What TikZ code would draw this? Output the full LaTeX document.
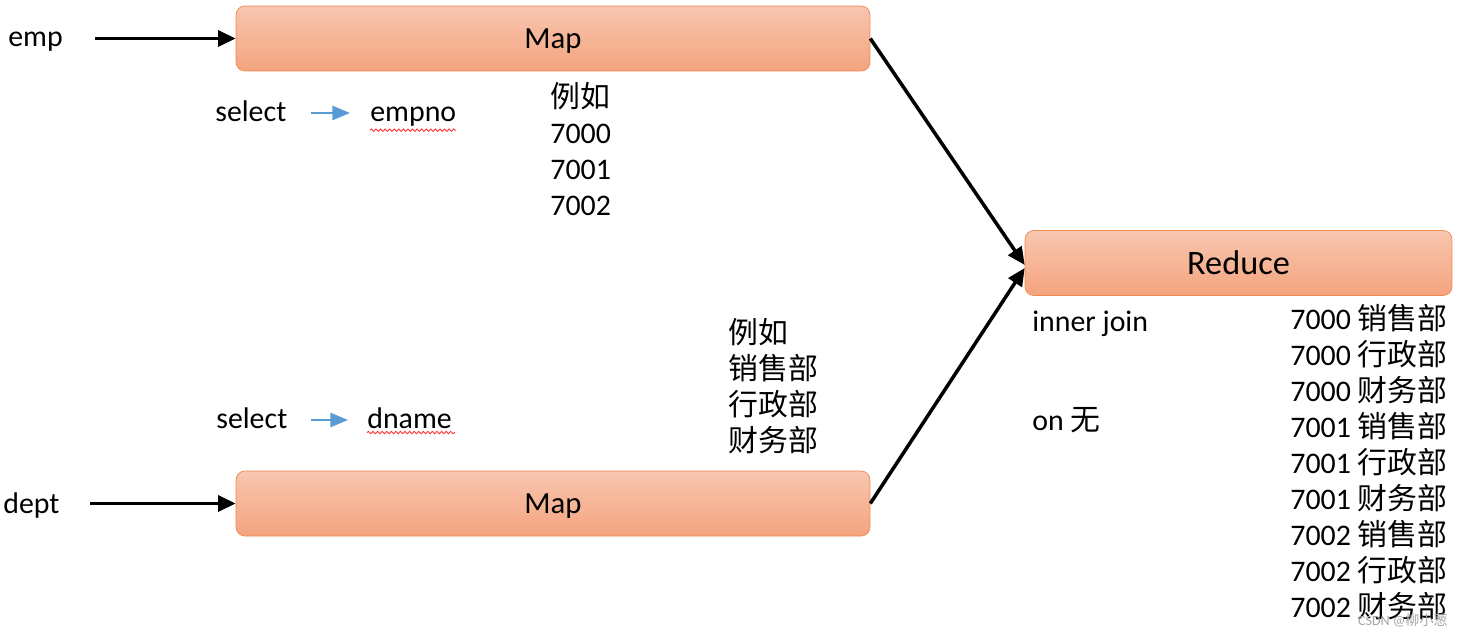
\documentclass[tikz,border=0pt]{standalone}
\usepackage{fontspec}
\setmainfont{Carlito}
\newfontfamily\cjk{Noto Sans CJK SC}
\usetikzlibrary{arrows.meta,decorations.pathmorphing}

\definecolor{boxtop}{HTML}{F8C6B0}
\definecolor{boxbot}{HTML}{F4A47E}
\definecolor{boxline}{HTML}{EE8A52}
\definecolor{pickblue}{HTML}{5B9BD5}

\tikzset{
	stage/.style={draw=boxline, rounded corners=5pt, top color=boxtop, bottom color=boxbot,
		minimum height=1.3cm, text depth=0pt, font=\fontsize{17.5}{20}\selectfont},
	lbl/.style={anchor=base west, inner sep=0pt, font=\fontsize{17}{19}\selectfont},
	row/.style={anchor=base west, inner sep=0pt, font=\fontsize{17}{19}\selectfont},
	flow/.style={draw=black, line width=2pt, -{Triangle[length=10pt,width=9pt]}},
	pick/.style={draw=pickblue, line width=1.3pt, -{Triangle[length=10pt,width=8pt]}},
	spell/.style={draw=red!80!white, line width=0.5pt, decorate,
		decoration={snake, amplitude=0.7pt, segment length=2.6pt}}
}

\begin{document}
\begin{tikzpicture}[x=0.02cm, y=-0.02cm]
		\useasboundingbox[fill=white] (0,0) rectangle (1464,636);

		% the three boxes
		\node[stage, minimum width=12.68cm] (map1) at (553,38.5) {Map};
		\node[stage, minimum width=12.68cm] (map2) at (553,503.5) {Map};
		\node[stage, minimum width=8.54cm, font=\fontsize{19.5}{22}\selectfont] (red) at (1238.5,263) {Reduce};

		% inputs
		\node[lbl] (emp) at (8,46) {emp};
		\node[lbl] (dept) at (3,513) {dept};
		\coordinate (empstart) at (95,38.5);
		\coordinate (deptstart) at (90,503.5);
		\draw[flow] (empstart) -- (map1.west);
		\draw[flow] (deptstart) -- (map2.west);

		% into the reducer
		\draw[flow] (map1.east) -- ([yshift=-0.04cm]red.west);
		\draw[flow] (map2.east) -- ([yshift=-0.1cm]red.west);

		% select lines
		\node[lbl] (sel1) at (215,121) {select};
		\node[lbl] (col1) at (370,121) {empno};
		\draw[pick] (311,113) -- (350,113);
		\draw[spell] (col1.south west) ++(0,4) -- ++(86,0);
		\node[lbl] (sel2) at (216,428) {select};
		\node[lbl] (col2) at (367,428) {dname};
		\draw[pick] (311,420) -- (348,420);
		\draw[spell] (col2.south west) ++(0,4) -- ++(88,0);

		% examples
		\node[row] (ex1) at (550,107) {\cjk 例如};
		\foreach \n [count=\i] in {7000,7001,7002}
		\node[row] (id\i) at (550,107+36*\i) {\n};
		\node[row] (ex2) at (728,343) {\cjk 例如};
		\foreach \d [count=\i] in {销售部,行政部,财务部}
		\node[row] (dep\i) at (728,343+36*\i) {\cjk \d};

		% join result
		\node[row] (inner) at (1032,331) {inner join};
		\node[row] (on) at (1032,430) {on {\cjk 无}};
		\foreach \n/\d [count=\i from 0] in {7000/销售部,7000/行政部,7000/财务部,7001/销售部,7001/行政部,7001/财务部,7002/销售部,7002/行政部,7002/财务部}
		\node[row] (res\i) at (1290,329+36*\i) {\n\ {\cjk \d}};

		\node[anchor=base east, inner sep=0pt, text=gray!70, font=\fontsize{8}{9}\selectfont] (mark) at (1448,625) {CSDN @{\cjk 柳小葱}};
	\end{tikzpicture}
\end{document}
